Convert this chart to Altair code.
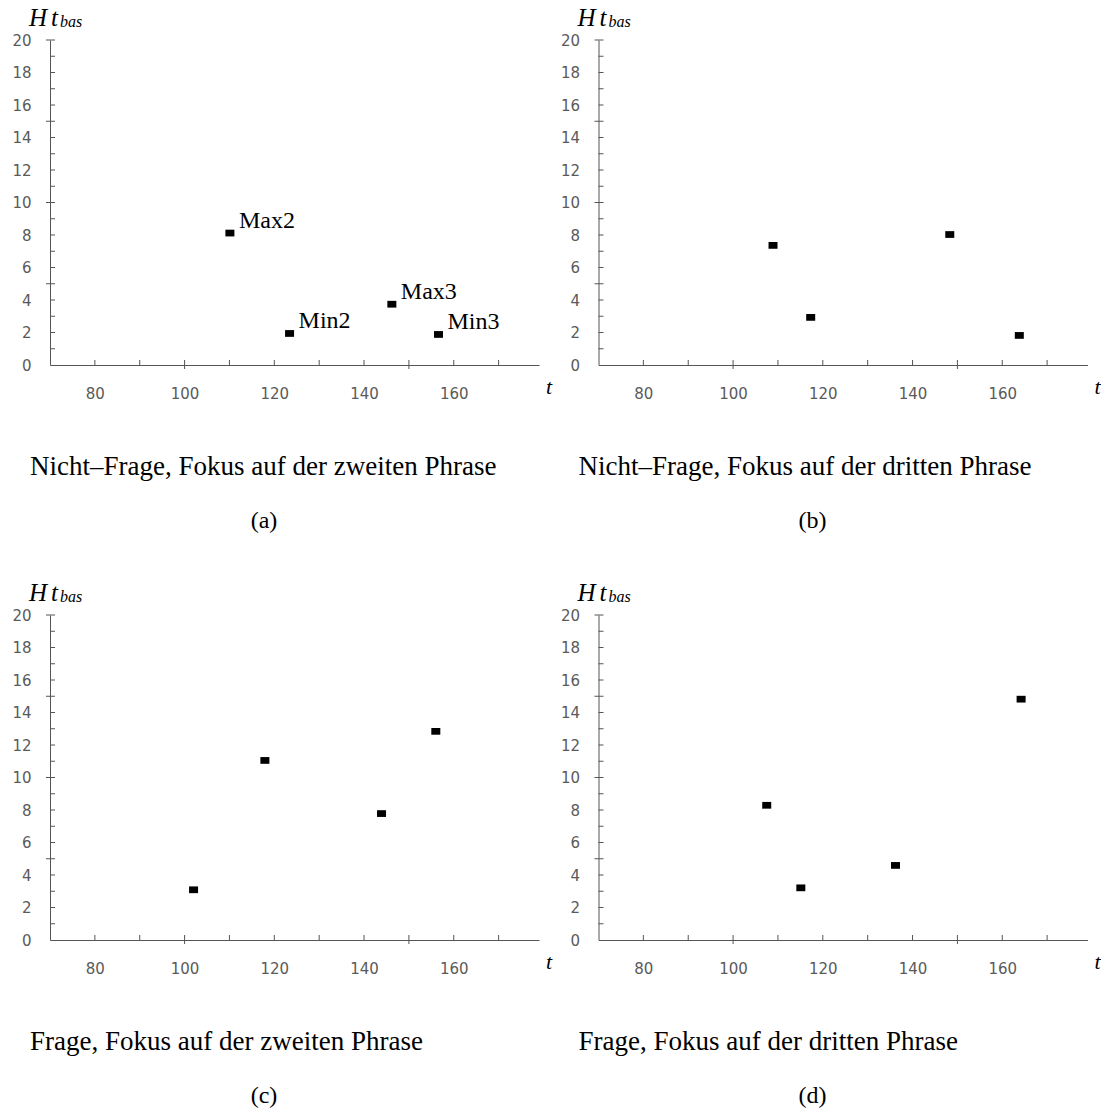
import altair as alt
import pandas as pd

# ---- data ----
t_a = [110.1, 123.4, 146.2, 156.6]
h_a = [8.12, 1.94, 3.74, 1.88]
labels_a = ["Max2", "Min2", "Max3", "Min3"]

t_b = [108.9, 117.3, 148.3, 163.8]
h_b = [7.36, 2.93, 8.03, 1.82]

t_c = [102.0, 117.9, 143.9, 156.0]
h_c = [3.09, 11.05, 7.78, 12.84]

t_d = [107.5, 115.1, 136.2, 164.2]
h_d = [8.29, 3.21, 4.59, 14.82]

captions = [
    "Nicht–Frage, Fokus auf der zweiten Phrase",
    "Nicht–Frage, Fokus auf der dritten Phrase",
    "Frage, Fokus auf der zweiten Phrase",
    "Frage, Fokus auf der dritten Phrase",
]
letters = ["(a)", "(b)", "(c)", "(d)"]

x_domain = [70, 179]
y_domain = [0, 20]
x_labels = [80, 100, 120, 140, 160]
y_labels = [0, 2, 4, 6, 8, 10, 12, 14, 16, 18, 20]
x_minor = [80, 90, 110, 120, 130, 140, 160, 170]
x_major = [100, 150]
y_minor = [1, 2, 3, 4, 6, 7, 8, 9, 11, 12, 13, 14, 16, 17, 18, 19]
y_major = [5, 10, 15, 20]

W, H = 489, 325
AX = "#555555"
SERIF = "Liberation Serif"

one = pd.DataFrame({"k": [0]})


def panel(t, h, caption, letter, labels=None):
    xs = alt.Scale(domain=x_domain, nice=False, zero=False)
    ys = alt.Scale(domain=y_domain, nice=False, zero=False)
    xaxis = alt.Axis(values=x_labels, title=None, ticks=False, tickSize=0,
                     labelPadding=21, grid=False, format="d")
    yaxis = alt.Axis(values=y_labels, title=None, ticks=False, tickSize=0,
                     labelPadding=19, grid=False, format="d")
    df = pd.DataFrame({"t": t, "h": h})
    if labels is not None:
        df["lab"] = labels

    points = alt.Chart(df).mark_point(
        shape="M-1,-0.75H1V0.75H-1Z", filled=True, size=81,
        color="black", opacity=1, strokeWidth=0
    ).encode(
        x=alt.X("t:Q", scale=xs, axis=xaxis),
        y=alt.Y("h:Q", scale=ys, axis=yaxis),
    )

    xmin = alt.Chart(pd.DataFrame({"t": x_minor})).mark_rule(color=AX, strokeWidth=1).encode(
        x=alt.X("t:Q", scale=xs, axis=xaxis), y=alt.value(H - 5), y2=alt.value(H))
    xmaj = alt.Chart(pd.DataFrame({"t": x_major})).mark_rule(color=AX, strokeWidth=1).encode(
        x=alt.X("t:Q", scale=xs, axis=xaxis), y=alt.value(H - 5), y2=alt.value(H + 4))
    ymin = alt.Chart(pd.DataFrame({"h": y_minor})).mark_rule(color=AX, strokeWidth=1).encode(
        y=alt.Y("h:Q", scale=ys, axis=yaxis), x=alt.value(0), x2=alt.value(5))
    ymaj = alt.Chart(pd.DataFrame({"h": y_major})).mark_rule(color=AX, strokeWidth=1).encode(
        y=alt.Y("h:Q", scale=ys, axis=yaxis), x=alt.value(-4), x2=alt.value(5))

    def txt(s, x, y, size, style="normal", align="left"):
        return alt.Chart(one).mark_text(
            align=align, baseline="alphabetic", font=SERIF, fontSize=size,
            fontStyle=style, color="black"
        ).encode(x=alt.value(x), y=alt.value(y), text=alt.value(s))

    layers = [points, xmin, xmaj, ymin, ymaj,
              txt("H", -21, -14.3, 25, "italic"),
              txt("t", 1, -14.3, 25, "italic"),
              txt("bas", 10, -12.6, 16, "italic"),
              txt("t", 496, 354, 22, "italic"),
              txt(caption, -20, 434.7, 27),
              txt(letter, 214, 488, 24, align="center")]

    if labels is not None:
        lab = alt.Chart(df).mark_text(
            align="left", baseline="alphabetic", dx=9, dy=-5,
            font=SERIF, fontSize=24, color="black"
        ).encode(x=alt.X("t:Q", scale=xs, axis=xaxis),
                 y=alt.Y("h:Q", scale=ys, axis=yaxis),
                 text="lab:N")
        layers.append(lab)

    return alt.layer(*layers).properties(width=W, height=H)


pa = panel(t_a, h_a, captions[0], letters[0], labels_a)
pb = panel(t_b, h_b, captions[1], letters[1])
pc = panel(t_c, h_c, captions[2], letters[2])
pd_ = panel(t_d, h_d, captions[3], letters[3])

chart = alt.concat(
    pa, pb, pc, pd_, columns=2,
    spacing={"row": 250, "column": 59.5}, bounds="flush"
).properties(
    padding={"left": 11, "top": 5, "right": 0, "bottom": 0},
    background="white",
).configure_view(stroke=None).configure_axis(
    labelFont="DejaVu Sans", labelFontSize=15, labelColor="#5a5a5a",
    domainColor=AX, domainWidth=1,
)

chart.save("out.html", embed_options={"renderer": "svg", "actions": False})
